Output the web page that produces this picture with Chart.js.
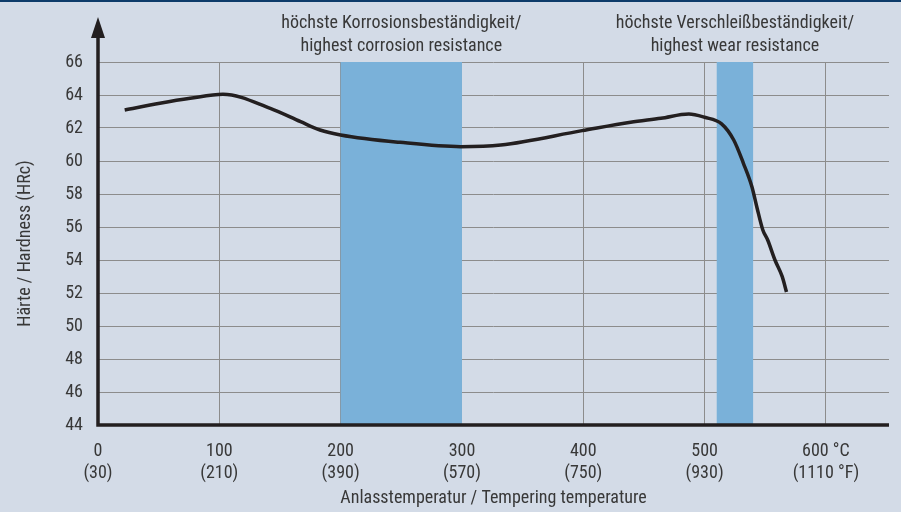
<!DOCTYPE html>
<html><head><meta charset="utf-8">
<script src="https://cdn.jsdelivr.net/npm/chart.js@4"></script>
<style>html,body{margin:0;padding:0;background:#d3dbe7;}canvas{display:block;}</style>
</head><body>
<canvas id="c" width="901" height="512"></canvas>
<script>
// ---- data ----
const temperatureC = [22, 51, 76, 103, 142, 167, 183, 200, 249, 299, 332, 399, 439, 464, 487, 500, 514, 524, 532, 539, 543, 548, 552, 558, 564, 567.5];
const hardnessHRc  = [63.09, 63.5, 63.8, 64.04, 63.19, 62.38, 61.88, 61.58, 61.13, 60.87, 60.97, 61.84, 62.35, 62.59, 62.85, 62.65, 62.25, 61.27, 59.86, 58.44, 57.23, 55.82, 55.21, 54.0, 52.99, 52.06];
const xTickValues = [0, 100, 200, 300, 400, 500, 600];
const xTickLabelsC = ['0', '100', '200', '300', '400', '500', '600 °C'];
const xTickLabelsF = ['(30)', '(210)', '(390)', '(570)', '(750)', '(930)', '(1110 °F)'];
const yTickValues = [44, 46, 48, 50, 52, 54, 56, 58, 60, 62, 64, 66];
const bandFrom = [200, 510];
const bandTo = [300, 540];
const bandLabelsDe = ['höchste Korrosionsbeständigkeit/', 'höchste Verschleißbeständigkeit/'];
const bandLabelsEn = ['highest corrosion resistance', 'highest wear resistance'];
const xTitle = 'Anlasstemperatur / Tempering temperature';
const yTitle = 'Härte / Hardness (HRc)';

// ---- style ----
const FONT = "'Roboto Condensed','Liberation Sans',sans-serif";
const FS = 18;
const TXT = '#383838';
const BG = '#d3dbe7';
const BAND = '#7ab1d9';
const GRID = '#8c8c8c';
const AXIS = '#231f20';

const decor = {
  id: 'decor',
  beforeDraw(chart) {
    const ctx = chart.ctx;
    ctx.save();
    ctx.fillStyle = BG;
    ctx.fillRect(0, 0, chart.width, chart.height);
    ctx.fillStyle = '#0d3b6a';
    ctx.fillRect(0, 0, chart.width, 2);
    ctx.restore();
  },
  beforeDatasetsDraw(chart) {
    const ctx = chart.ctx, x = chart.scales.x, y = chart.scales.y;
    ctx.save();
    ctx.fillStyle = BAND;
    const top = y.getPixelForValue(y.max), bot = y.getPixelForValue(y.min);
    for (let i = 0; i < bandFrom.length; i++) {
      const a = x.getPixelForValue(bandFrom[i]), b = x.getPixelForValue(bandTo[i]);
      ctx.fillRect(a, top, b - a, bot - top);
    }
    ctx.restore();
  },
  afterDatasetsDraw(chart) {
    const ctx = chart.ctx, x = chart.scales.x, y = chart.scales.y;
    const ca = chart.chartArea;
    const x0 = x.getPixelForValue(0), y0 = y.getPixelForValue(y.min);
    ctx.save();
    ctx.strokeStyle = AXIS; ctx.fillStyle = AXIS; ctx.lineWidth = 3.5;
    ctx.beginPath();
    ctx.moveTo(ca.right, y0);
    ctx.lineTo(x0, y0);
    ctx.lineTo(x0, ca.top - 28);
    ctx.stroke();
    ctx.beginPath();
    ctx.moveTo(x0, ca.top - 45);
    ctx.lineTo(x0 - 7, ca.top - 24);
    ctx.lineTo(x0 + 7, ca.top - 24);
    ctx.closePath();
    ctx.fill();
    // band annotations
    ctx.font = FS + 'px ' + FONT;
    ctx.fillStyle = TXT;
    ctx.textAlign = 'center';
    ctx.textBaseline = 'alphabetic';
    for (let i = 0; i < bandFrom.length; i++) {
      const cx = x.getPixelForValue((bandFrom[i] + bandTo[i]) / 2);
      ctx.fillText(bandLabelsDe[i], cx, 28);
      ctx.fillText(bandLabelsEn[i], cx, 51);
    }
    ctx.restore();
  }
};

new Chart(document.getElementById('c'), {
  type: 'line',
  data: {
    datasets: [{
      data: temperatureC.map((t, i) => ({x: t, y: hardnessHRc[i]})),
      borderColor: AXIS,
      borderWidth: 3.5,
      pointRadius: 0,
      fill: false,
      cubicInterpolationMode: 'monotone'
    }]
  },
  options: {
    responsive: false,
    animation: false,
    layout: {padding: {top: 62, right: 12, left: 0, bottom: 0}},
    plugins: {legend: {display: false}, tooltip: {enabled: false}},
    scales: {
      x: {
        type: 'linear', min: 0, max: 652,
        afterBuildTicks(s) { s.ticks = xTickValues.map(v => ({value: v})); },
        afterFit(s) { s.height = 87; },
        grid: {color: GRID, lineWidth: 1, drawTicks: false},
        border: {display: false},
        ticks: {
          padding: 16, autoSkip: false, maxRotation: 0,
          color: TXT, font: {family: FONT, size: FS, lineHeight: 1.2},
          callback(v) { const i = xTickValues.indexOf(v); return i < 0 ? '' : [xTickLabelsC[i], xTickLabelsF[i]]; }
        },
        title: {display: true, text: xTitle, color: TXT, font: {family: FONT, size: FS, lineHeight: 1.2}, padding: {top: 0, bottom: 3}}
      },
      y: {
        type: 'linear', min: 44, max: 66,
        afterBuildTicks(s) { s.ticks = yTickValues.map(v => ({value: v})); },
        afterFit(s) { s.width = 98; },
        grid: {color: GRID, lineWidth: 1, drawTicks: false},
        border: {display: false},
        ticks: {padding: 15, color: TXT, font: {family: FONT, size: FS}},
        title: {display: true, text: yTitle, color: TXT, font: {family: FONT, size: FS, lineHeight: 1.2}, padding: {top: 15, bottom: 0}}
      }
    }
  },
  plugins: [decor]
});
</script>
</body></html>
